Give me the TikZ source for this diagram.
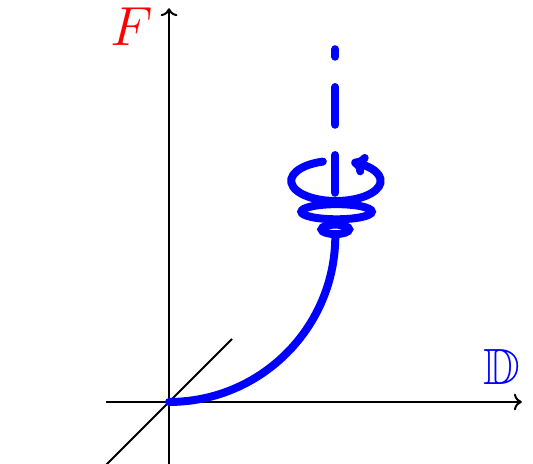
\documentclass[tikz,border=0pt]{standalone}
\usepackage{amsmath,amssymb}
\usepackage{tikz}
\usetikzlibrary{arrows.meta,bending,positioning,calc}

\begin{document}
\begin{tikzpicture}[line width=0.9pt, font=\fontsize{23}{28}\selectfont,
    spiral/.style={blue, line width=3.6pt, line cap=round}]
  \useasboundingbox (-2.683,-0.984) rectangle (5.778,6.381);
  % axes
  \coordinate (O) at (0,0);
  \coordinate (xs) at (-1,0);
  \coordinate (xe) at (5.6,0);
  \coordinate (ys) at (0,-0.984);
  \coordinate (ye) at (0,6.25);
  \coordinate (ds) at (-1,-1);
  \coordinate (de) at (1,1);
  \draw[->] (xs) -- (xe);
  \draw[->] (ys) -- (ye);
  \draw (ds) -- (de);
  \node[red]  (F) at (-0.6,5.95) {$F$};
  \node[blue] (D) at (5.29,0.56) {$\mathbb{D}$};
  % path from the origin
  \draw[spiral] (O) arc[start angle=-90, end angle=0, radius=2.64] coordinate (T);
  % rings of the spiral
  \coordinate (c1) at (2.64,2.74);
  \coordinate (c2) at (2.66,3.02);
  \coordinate (c3) at (2.65,3.51);
  \draw[spiral] (c1) ellipse[x radius=0.22, y radius=0.075];
  \draw[spiral] (c2) ellipse[x radius=0.56, y radius=0.12];
  \draw[spiral, -{Computer Modern Rightarrow[bend, length=7pt, width=10pt]}]
     ($(c3)+(107:0.71 and 0.32)$)
     arc[start angle=107, end angle=430, x radius=0.71, y radius=0.32];
  % axis of the spiral
  \coordinate (a1) at (2.64,3.32);
  \coordinate (a2) at (2.64,5.60);
  \draw[spiral, dash pattern=on 0.6cm off 0.48cm] (a1) -- (a2);
\end{tikzpicture}
\end{document}
